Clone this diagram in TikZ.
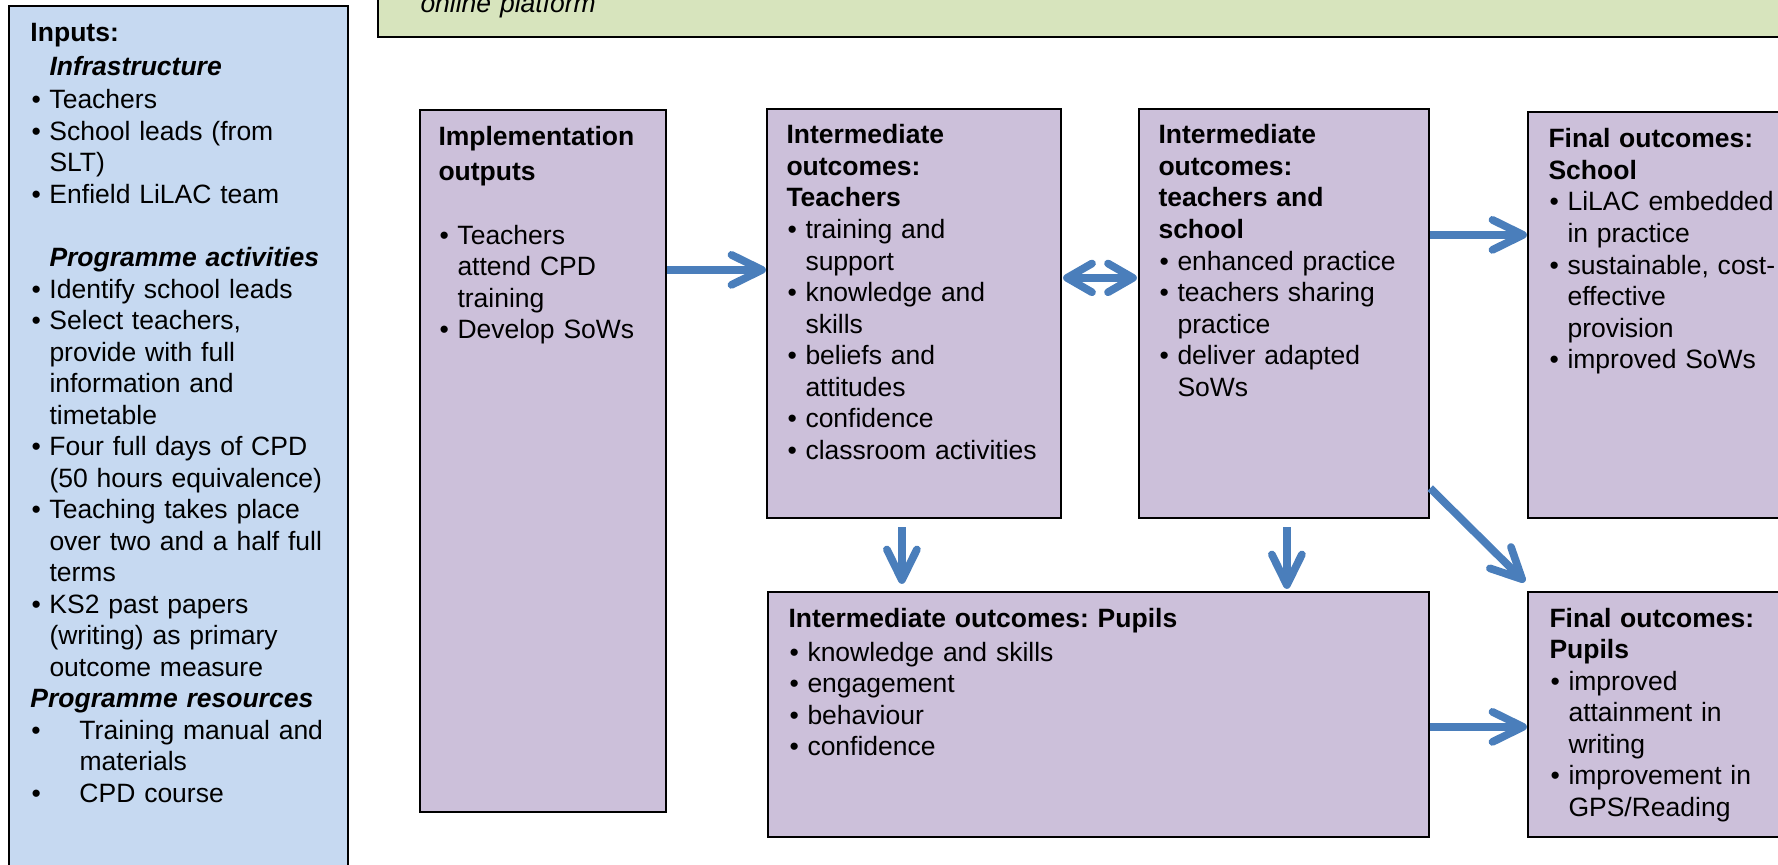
\documentclass[tikz,border=0pt]{standalone}
\usepackage{fontspec}
\setmainfont{Liberation Sans}
\usetikzlibrary{arrows.meta,calc,fit}

\definecolor{lilac}{HTML}{CCC0DA}
\definecolor{inblue}{HTML}{C6D9F1}
\definecolor{sage}{HTML}{D7E4BD}
\definecolor{arrowblue}{HTML}{4A7EBB}

\newcommand{\bitem}{\makebox[7.6pt][l]{\hspace{0.4pt}\textbullet}}
\newcommand{\bcont}{\hspace*{7.6pt}}
\newcommand{\ritem}{\makebox[19.6pt][l]{\hspace{0.4pt}\textbullet}}

\begin{document}
\begin{tikzpicture}[x=0.4pt, y=-0.4pt,
  box/.style={draw, line width=0.9pt, inner sep=0pt},
  txt/.style={anchor=base west, inner sep=0pt, align=left, text width=#1,
    font=\fontsize{10.6pt}{12.6pt}\selectfont\frenchspacing},
  >={Straight Barb[length=12.2pt,width=12pt,round]},
  flow/.style={draw=arrowblue, line width=3.1pt, ->},
  dflow/.style={draw=arrowblue, line width=3.1pt,
    {Straight Barb[length=10pt,width=11.5pt,round]}-{Straight Barb[length=10pt,width=11.5pt,round]}}]
\useasboundingbox (0,0) rectangle (1778,865);
\clip (0,0) rectangle (1778,865);

\node[box, fill=inblue, fit={(9,6) (348,900)}] (inputs) {};
\node[box, fill=sage, fit={(378,-40) (1800,37)}] (platform) {};
\node[box, fill=lilac, fit={(420,110) (666,812)}] (impl) {};
\node[box, fill=lilac, fit={(767,109) (1061,518)}] (intT) {};
\node[box, fill=lilac, fit={(1139,109) (1429,518)}] (intTS) {};
\node[box, fill=lilac, fit={(1528,112) (1800,518)}] (finS) {};
\node[box, fill=lilac, fit={(768,592) (1429,837)}] (intP) {};
\node[box, fill=lilac, fit={(1528,592) (1800,837)}] (finP) {};

\node[txt=140pt] (platformT) at (420,13) {\textit{online platform}};

\node[txt=136pt] (inputsT) at (30,42) {\textbf{Inputs:}\\[1pt]
\bcont\textbf{\textit{Infrastructure}}\\[0.6pt]
\bitem Teachers\\
\bitem School leads (from\\
\bcont SLT)\\
\bitem Enfield LiLAC team\\
\mbox{}\\
\bcont\textbf{\textit{Programme activities}}\\
\bitem Identify school leads\\
\bitem Select teachers,\\
\bcont provide with full\\
\bcont information and\\
\bcont timetable\\
\bitem Four full days of CPD\\
\bcont (50 hours equivalence)\\
\bitem Teaching takes place\\
\bcont over two and a half full\\
\bcont terms\\
\bitem KS2 past papers\\
\bcont (writing) as primary\\
\bcont outcome measure\\
\textbf{\textit{Programme resources}}\\
\ritem Training manual and\\
\hspace*{19.6pt}materials\\
\ritem CPD course};

\node[txt=96pt] (implT) at (438,146) {\textbf{Implementation}\\[1.4pt]
\textbf{outputs}\\
\mbox{}\\
\bitem Teachers\\
\bcont attend CPD\\
\bcont training\\
\bitem Develop SoWs};

\node[txt=110pt] (intTT) at (786,144) {\textbf{Intermediate}\\
\textbf{outcomes:}\\
\textbf{Teachers}\\
\bitem training and\\
\bcont support\\
\bitem knowledge and\\
\bcont skills\\
\bitem beliefs and\\
\bcont attitudes\\
\bitem confidence\\
\bitem classroom activities};

\node[txt=110pt] (intTST) at (1158,144) {\textbf{Intermediate}\\
\textbf{outcomes:}\\
\textbf{teachers and}\\
\textbf{school}\\
\bitem enhanced practice\\
\bitem teachers sharing\\
\bcont practice\\
\bitem deliver adapted\\
\bcont SoWs};

\node[txt=100pt] (finST) at (1548,148) {\textbf{Final outcomes:}\\
\textbf{School}\\
\bitem LiLAC embedded\\
\bcont in practice\\
\bitem sustainable, cost-\\
\bcont effective\\
\bcont provision\\
\bitem improved SoWs};

\node[txt=200pt] (intPT) at (788,627) {\textbf{Intermediate outcomes: Pupils}\\[1pt]
\bitem knowledge and skills\\
\bitem engagement\\
\bitem behaviour\\
\bitem confidence};

\node[txt=100pt] (finPT) at (1549,627) {\textbf{Final outcomes:}\\
\textbf{Pupils}\\
\bitem improved\\
\bcont attainment in\\
\bcont writing\\
\bitem improvement in\\
\bcont GPS/Reading};

\draw[flow] ($(impl.north east)+(0,161)$) -- ($(intT.north west)+(0,162)$);
\draw[dflow] ($(intT.north east)+(1,170)$) -- ($(intTS.north west)+(-1,170)$);
\draw[flow] ($(intTS.north east)+(0,127)$) -- ($(finS.north west)+(0,124)$);
\draw[flow] ($(intT.south west)+(136,8)$) -- ($(intP.north west)+(135,-7)$);
\draw[flow] ($(intTS.south west)+(149,8)$) -- ($(intP.north west)+(520,-2)$);
\draw[flow] ($(intTS.south east)+(0,-31)$) -- ($(finP.north west)+(-2,-9)$);
\draw[flow] ($(intP.north east)+(0,136)$) -- ($(finP.north west)+(0,136)$);
\end{tikzpicture}
\end{document}
